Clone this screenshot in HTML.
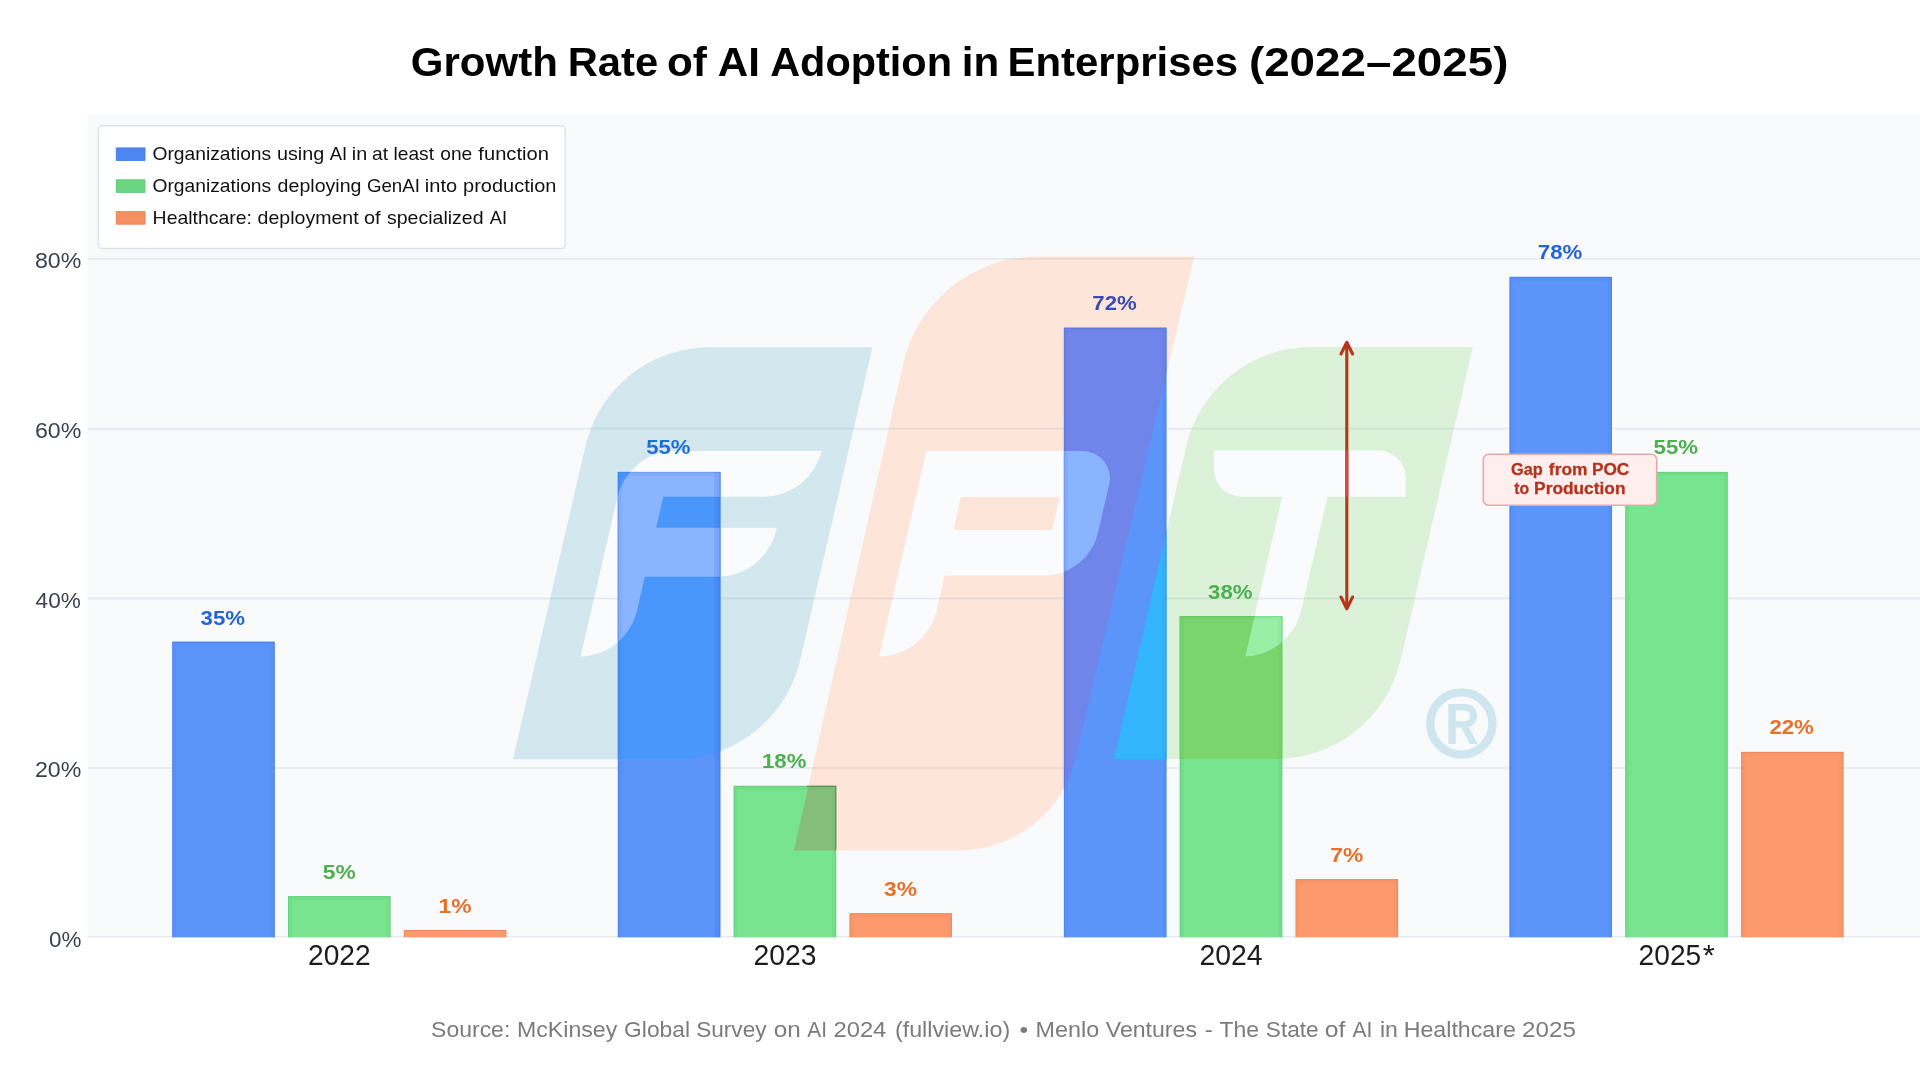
<!DOCTYPE html>
<html><head><meta charset="utf-8"><title>Growth Rate of AI Adoption in Enterprises</title>
<style>
html,body{margin:0;padding:0;background:#fff;}
body{width:1920px;height:1080px;position:relative;overflow:hidden;font-family:"Liberation Sans",sans-serif;}
</style></head><body>
<svg width="1920" height="1080" viewBox="0 0 1920 1080" style="position:absolute;left:0;top:0;will-change:transform">
<defs>
<path id="sB" d="M710.0 347.2 L872.5 347.2 L800.2 660.1 A128 128 0 0 1 675.5 759.3 L513.0 759.3 L585.3 446.4 A128 128 0 0 1 710.0 347.2 Z"/><path id="sO" d="M1037.7 256.4 L1194.1 256.4 L1075.7 758.0 A120 120 0 0 1 958.9 850.4 L793.9 850.4 L903.1 364.2 A138 138 0 0 1 1037.7 256.4 Z"/><path id="sG" d="M1311.0 347.1 L1472.9 347.1 L1400.7 659.8 A128 128 0 0 1 1275.9 759.0 L1114.0 759.0 L1186.2 446.3 A128 128 0 0 1 1311.0 347.1 Z"/>
<path id="lF" d="M675.8 451.0 L821.7 451.0 L821.7 451.0 A60 60 0 0 1 764.2 496.7 L663.3 496.7 L656.2 527.8 L776.7 527.8 L776.1 530.2 A60 60 0 0 1 717.7 576.7 L644.9 576.7 L637.1 610.2 A60 60 0 0 1 578.7 656.7 L580.6 656.7 L617.4 497.5 A60 60 0 0 1 675.8 451.0 Z"/><path id="lP" d="M926.5 451.0 L1082.9 451.0 A27 27 0 0 1 1109.2 484.1 L1097.9 532.9 A55 55 0 0 1 1044.3 575.5 L944.7 575.5 L936.7 610.2 A60 60 0 0 1 878.2 656.7 L879.0 656.7 Z M960.7 497.1 L953.8 530 L1052.2 530 L1059.6 497.1 Z" fill-rule="evenodd"/><path id="lT" d="M1213.9 450.6 L1378.6 450.6 A27 27 0 0 1 1405.6 477.6 L1405.6 496.7 L1327.5 496.7 L1301.3 610.0 A60 60 0 0 1 1242.9 656.5 L1245.3 656.5 L1282.2 496.7 L1241.9 496.7 A28 28 0 0 1 1213.9 468.7 Z"/>
<clipPath id="cT"><use href="#lT"/></clipPath>
<clipPath id="c00"><rect x="172.2" y="641.6" width="102.6" height="295.7"/></clipPath>
<clipPath id="c01"><rect x="288.0" y="896.1" width="102.6" height="41.2"/></clipPath>
<clipPath id="c02"><rect x="403.8" y="930.0" width="102.6" height="7.3"/></clipPath>
<clipPath id="c10"><rect x="617.8" y="471.9" width="102.6" height="465.4"/></clipPath>
<clipPath id="c11"><rect x="733.6" y="785.8" width="102.6" height="151.5"/></clipPath>
<clipPath id="c12"><rect x="849.4" y="913.1" width="102.6" height="24.2"/></clipPath>
<clipPath id="c20"><rect x="1063.9" y="327.7" width="102.6" height="609.6"/></clipPath>
<clipPath id="c21"><rect x="1179.7" y="616.1" width="102.6" height="321.2"/></clipPath>
<clipPath id="c22"><rect x="1295.5" y="879.1" width="102.6" height="58.2"/></clipPath>
<clipPath id="c30"><rect x="1509.4" y="276.8" width="102.6" height="660.5"/></clipPath>
<clipPath id="c31"><rect x="1625.2" y="471.9" width="102.6" height="465.4"/></clipPath>
<clipPath id="c32"><rect x="1741.0" y="751.9" width="102.6" height="185.4"/></clipPath>
</defs>
<rect x="87.4" y="115.2" width="1832.6" height="822.2" fill="#f8fafc"/>
<use href="#sB" fill="#d3e8ee"/><use href="#sO" fill="#fde5da"/><use href="#sG" fill="#dcf2d8"/>
<use href="#lF" fill="#fafbfd"/><use href="#lP" fill="#fafbfd"/><use href="#lT" fill="#fafbfd"/>
<circle cx="1461.4" cy="723.5" r="31.1" fill="none" stroke="#cfe6ee" stroke-width="8.4"/>
<path fill="#cfe6ee" fill-rule="evenodd" d="M1448.4 704.1 H1464 C1472.5 704.1 1477.2 708.8 1477.2 715.8 C1477.2 721.5 1474 725.6 1468.6 727 L1477.8 743.9 H1469.9 L1461.2 727.6 H1455.8 V743.9 H1448.4 Z M1455.8 710.6 V721.2 H1463.5 C1467.8 721.2 1470 719 1470 715.9 C1470 712.8 1467.8 710.6 1463.5 710.6 Z"/>
<rect x="87.6" y="258.0" width="1832.4" height="1.6" fill="#64748b" fill-opacity="0.13"/>
<rect x="87.6" y="427.9" width="1832.4" height="1.6" fill="#64748b" fill-opacity="0.13"/>
<rect x="87.6" y="597.7" width="1832.4" height="1.6" fill="#64748b" fill-opacity="0.13"/>
<rect x="87.6" y="767.2" width="1832.4" height="1.6" fill="#64748b" fill-opacity="0.13"/>
<rect x="87.6" y="935.9" width="1832.4" height="1.6" fill="#64748b" fill-opacity="0.13"/>
<rect x="172.2" y="641.6" width="102.6" height="295.7" fill="#5b95fa"/>
<rect x="288.0" y="896.1" width="102.6" height="41.2" fill="#79e48f"/>
<rect x="403.8" y="930.0" width="102.6" height="7.3" fill="#fc9a6e"/>
<rect x="617.8" y="471.9" width="102.6" height="465.4" fill="#5b95fa"/>
<rect x="733.6" y="785.8" width="102.6" height="151.5" fill="#79e48f"/>
<rect x="849.4" y="913.1" width="102.6" height="24.2" fill="#fc9a6e"/>
<rect x="1063.9" y="327.7" width="102.6" height="609.6" fill="#5b95fa"/>
<rect x="1179.7" y="616.1" width="102.6" height="321.2" fill="#79e48f"/>
<rect x="1295.5" y="879.1" width="102.6" height="58.2" fill="#fc9a6e"/>
<rect x="1509.4" y="276.8" width="102.6" height="660.5" fill="#5b95fa"/>
<rect x="1625.2" y="471.9" width="102.6" height="465.4" fill="#79e48f"/>
<rect x="1741.0" y="751.9" width="102.6" height="185.4" fill="#fc9a6e"/>
<g clip-path="url(#c10)"><use href="#sB" fill="#4a97fb"/><use href="#lF" fill="#8ab4fd"/></g>
<g clip-path="url(#c11)"><use href="#sO" fill="#86be7c"/></g>
<path d="M806.5 786.4 H835.6 V849.8" fill="none" stroke="#5d8f58" stroke-width="1.3" stroke-opacity="0.8"/>
<g clip-path="url(#c20)"><use href="#sO" fill="#7085e9"/><use href="#lP" fill="#8ab4fd"/><use href="#sG" fill="#33b5fc"/></g>
<g clip-path="url(#c21)"><use href="#sG" fill="#7bd56f"/><use href="#lT" fill="#9aefa6"/></g>
<rect x="714.2" y="471.9" width="6.2" height="465.4" fill="#3b4fd8" fill-opacity="0.10"/>
<path d="M172.7 937.3 V642.1 H274.3 V937.3" fill="none" stroke="#2c4fc0" stroke-width="1" stroke-opacity="0.26"/>
<path d="M174.7 937.3 V644.1 H272.3 V937.3" fill="none" stroke="#2c4fc0" stroke-width="3" stroke-opacity="0.07"/>
<path d="M288.5 937.3 V896.6 H390.1 V937.3" fill="none" stroke="#2e9e4a" stroke-width="1" stroke-opacity="0.26"/>
<path d="M290.5 937.3 V898.6 H388.1 V937.3" fill="none" stroke="#2e9e4a" stroke-width="3" stroke-opacity="0.07"/>
<path d="M404.3 937.3 V930.5 H505.9 V937.3" fill="none" stroke="#c8602a" stroke-width="1" stroke-opacity="0.26"/>
<path d="M618.3 937.3 V472.4 H719.9 V937.3" fill="none" stroke="#2c4fc0" stroke-width="1" stroke-opacity="0.26"/>
<path d="M620.3 937.3 V474.4 H717.9 V937.3" fill="none" stroke="#2c4fc0" stroke-width="3" stroke-opacity="0.07"/>
<path d="M734.1 937.3 V786.3 H835.7 V937.3" fill="none" stroke="#2e9e4a" stroke-width="1" stroke-opacity="0.26"/>
<path d="M736.1 937.3 V788.3 H833.7 V937.3" fill="none" stroke="#2e9e4a" stroke-width="3" stroke-opacity="0.07"/>
<path d="M849.9 937.3 V913.6 H951.5 V937.3" fill="none" stroke="#c8602a" stroke-width="1" stroke-opacity="0.26"/>
<path d="M851.9 937.3 V915.6 H949.5 V937.3" fill="none" stroke="#c8602a" stroke-width="3" stroke-opacity="0.07"/>
<path d="M1064.4 937.3 V328.2 H1166.0 V937.3" fill="none" stroke="#2c4fc0" stroke-width="1" stroke-opacity="0.26"/>
<path d="M1066.4 937.3 V330.2 H1164.0 V937.3" fill="none" stroke="#2c4fc0" stroke-width="3" stroke-opacity="0.07"/>
<path d="M1180.2 937.3 V616.6 H1281.8 V937.3" fill="none" stroke="#2e9e4a" stroke-width="1" stroke-opacity="0.26"/>
<path d="M1182.2 937.3 V618.6 H1279.8 V937.3" fill="none" stroke="#2e9e4a" stroke-width="3" stroke-opacity="0.07"/>
<path d="M1296.0 937.3 V879.6 H1397.6 V937.3" fill="none" stroke="#c8602a" stroke-width="1" stroke-opacity="0.26"/>
<path d="M1298.0 937.3 V881.6 H1395.6 V937.3" fill="none" stroke="#c8602a" stroke-width="3" stroke-opacity="0.07"/>
<path d="M1509.9 937.3 V277.3 H1611.5 V937.3" fill="none" stroke="#2c4fc0" stroke-width="1" stroke-opacity="0.26"/>
<path d="M1511.9 937.3 V279.3 H1609.5 V937.3" fill="none" stroke="#2c4fc0" stroke-width="3" stroke-opacity="0.07"/>
<path d="M1625.7 937.3 V472.4 H1727.3 V937.3" fill="none" stroke="#2e9e4a" stroke-width="1" stroke-opacity="0.26"/>
<path d="M1627.7 937.3 V474.4 H1725.3 V937.3" fill="none" stroke="#2e9e4a" stroke-width="3" stroke-opacity="0.07"/>
<path d="M1741.5 937.3 V752.4 H1843.1 V937.3" fill="none" stroke="#c8602a" stroke-width="1" stroke-opacity="0.26"/>
<path d="M1743.5 937.3 V754.4 H1841.1 V937.3" fill="none" stroke="#c8602a" stroke-width="3" stroke-opacity="0.07"/>
<g stroke="#b5351f" stroke-width="3.1" fill="none" stroke-linecap="round" stroke-linejoin="round"><path d="M1346.8 343 V607.5"/><path d="M1341 354 L1346.8 342.3 L1352.6 354"/><path d="M1341 597 L1346.8 608.7 L1352.6 597"/></g>
<g clip-path="url(#cT)" stroke="#d7463f" stroke-width="3.1" fill="none"><path d="M1346.8 343 V607.5"/><path d="M1341 354 L1346.8 342.3 L1352.6 354"/><path d="M1341 597 L1346.8 608.7 L1352.6 597"/></g>
<rect x="1483.3" y="454.3" width="173.4" height="51" rx="5.5" fill="#feeeed" stroke="#eaa9a7" stroke-width="1.6"/>
<text x="438.50" y="912.5" font-family="Liberation Sans, sans-serif" font-weight="bold" font-size="20.6" fill="#e8702a" textLength="33.00" lengthAdjust="spacingAndGlyphs">1%</text>
<text x="646.20" y="454.4" font-family="Liberation Sans, sans-serif" font-weight="bold" font-size="20.6" fill="#1f6ed8" textLength="44.40" lengthAdjust="spacingAndGlyphs">55%</text>
<text x="762.00" y="768.3" font-family="Liberation Sans, sans-serif" font-weight="bold" font-size="20.6" fill="#4caf50" textLength="44.40" lengthAdjust="spacingAndGlyphs">18%</text>
<text x="884.10" y="895.6" font-family="Liberation Sans, sans-serif" font-weight="bold" font-size="20.6" fill="#e8702a" textLength="33.00" lengthAdjust="spacingAndGlyphs">3%</text>
<text x="1092.30" y="310.2" font-family="Liberation Sans, sans-serif" font-weight="bold" font-size="20.6" fill="#3a4cb4" textLength="44.40" lengthAdjust="spacingAndGlyphs">72%</text>
<text x="1208.10" y="598.6" font-family="Liberation Sans, sans-serif" font-weight="bold" font-size="20.6" fill="#4caf50" textLength="44.40" lengthAdjust="spacingAndGlyphs">38%</text>
<text x="1330.20" y="861.6" font-family="Liberation Sans, sans-serif" font-weight="bold" font-size="20.6" fill="#e8702a" textLength="33.00" lengthAdjust="spacingAndGlyphs">7%</text>
<text x="1537.80" y="259.3" font-family="Liberation Sans, sans-serif" font-weight="bold" font-size="20.6" fill="#2563d9" textLength="44.40" lengthAdjust="spacingAndGlyphs">78%</text>
<text x="1653.60" y="454.4" font-family="Liberation Sans, sans-serif" font-weight="bold" font-size="20.6" fill="#4caf50" textLength="44.40" lengthAdjust="spacingAndGlyphs">55%</text>
<text x="1769.40" y="734.4" font-family="Liberation Sans, sans-serif" font-weight="bold" font-size="20.6" fill="#e8702a" textLength="44.40" lengthAdjust="spacingAndGlyphs">22%</text>
<rect x="98.3" y="125.8" width="467" height="122.6" rx="4" fill="#ffffff" stroke="#dfe4ea" stroke-width="1.5"/>
<rect x="116.2" y="147.9" width="28.8" height="12.6" fill="#4d86f0" stroke="#3f78e6" stroke-width="0.8"/>
<rect x="116.2" y="179.8" width="28.8" height="12.6" fill="#69d582" stroke="#5cc876" stroke-width="0.8"/>
<rect x="116.2" y="211.6" width="28.8" height="12.6" fill="#f48f60" stroke="#ea8052" stroke-width="0.8"/>
<text x="410.82" y="75.8" font-family="Liberation Sans, sans-serif" font-weight="bold" font-size="41.5" fill="#000" textLength="147.10" lengthAdjust="spacingAndGlyphs">Growth</text>
<text x="567.72" y="75.8" font-family="Liberation Sans, sans-serif" font-weight="bold" font-size="41.5" fill="#000" textLength="90.50" lengthAdjust="spacingAndGlyphs">Rate</text>
<text x="666.92" y="75.8" font-family="Liberation Sans, sans-serif" font-weight="bold" font-size="41.5" fill="#000" textLength="39.90" lengthAdjust="spacingAndGlyphs">of</text>
<text x="717.86" y="75.8" font-family="Liberation Sans, sans-serif" font-weight="bold" font-size="41.5" fill="#000" textLength="42.12" lengthAdjust="spacingAndGlyphs">AI</text>
<text x="770.16" y="75.8" font-family="Liberation Sans, sans-serif" font-weight="bold" font-size="41.5" fill="#000" textLength="181.84" lengthAdjust="spacingAndGlyphs">Adoption</text>
<text x="961.72" y="75.8" font-family="Liberation Sans, sans-serif" font-weight="bold" font-size="41.5" fill="#000" textLength="37.42" lengthAdjust="spacingAndGlyphs">in</text>
<text x="1007.58" y="75.8" font-family="Liberation Sans, sans-serif" font-weight="bold" font-size="41.5" fill="#000" textLength="230.52" lengthAdjust="spacingAndGlyphs">Enterprises</text>
<text x="1248.94" y="75.8" font-family="Liberation Sans, sans-serif" font-weight="bold" font-size="41.5" fill="#000" textLength="259.52" lengthAdjust="spacingAndGlyphs">(2022–2025)</text>
<text x="152.44" y="160.0" font-family="Liberation Sans, sans-serif" font-size="19" fill="#111" textLength="118.76" lengthAdjust="spacingAndGlyphs">Organizations</text>
<text x="276.90" y="160.0" font-family="Liberation Sans, sans-serif" font-size="19" fill="#111" textLength="47.30" lengthAdjust="spacingAndGlyphs">using</text>
<text x="329.82" y="160.0" font-family="Liberation Sans, sans-serif" font-size="19" fill="#111" textLength="17.38" lengthAdjust="spacingAndGlyphs">AI</text>
<text x="351.80" y="160.0" font-family="Liberation Sans, sans-serif" font-size="19" fill="#111" textLength="15.40" lengthAdjust="spacingAndGlyphs">in</text>
<text x="372.10" y="160.0" font-family="Liberation Sans, sans-serif" font-size="19" fill="#111" textLength="16.02" lengthAdjust="spacingAndGlyphs">at</text>
<text x="393.50" y="160.0" font-family="Liberation Sans, sans-serif" font-size="19" fill="#111" textLength="40.48" lengthAdjust="spacingAndGlyphs">least</text>
<text x="440.26" y="160.0" font-family="Liberation Sans, sans-serif" font-size="19" fill="#111" textLength="32.02" lengthAdjust="spacingAndGlyphs">one</text>
<text x="478.34" y="160.0" font-family="Liberation Sans, sans-serif" font-size="19" fill="#111" textLength="70.66" lengthAdjust="spacingAndGlyphs">function</text>
<text x="152.44" y="191.9" font-family="Liberation Sans, sans-serif" font-size="19" fill="#111" textLength="118.76" lengthAdjust="spacingAndGlyphs">Organizations</text>
<text x="277.62" y="191.9" font-family="Liberation Sans, sans-serif" font-size="19" fill="#111" textLength="83.84" lengthAdjust="spacingAndGlyphs">deploying</text>
<text x="366.90" y="191.9" font-family="Liberation Sans, sans-serif" font-size="19" fill="#111" textLength="53.00" lengthAdjust="spacingAndGlyphs">GenAI</text>
<text x="424.80" y="191.9" font-family="Liberation Sans, sans-serif" font-size="19" fill="#111" textLength="32.30" lengthAdjust="spacingAndGlyphs">into</text>
<text x="463.08" y="191.9" font-family="Liberation Sans, sans-serif" font-size="19" fill="#111" textLength="93.30" lengthAdjust="spacingAndGlyphs">production</text>
<text x="152.60" y="223.8" font-family="Liberation Sans, sans-serif" font-size="19" fill="#111" textLength="99.40" lengthAdjust="spacingAndGlyphs">Healthcare:</text>
<text x="257.62" y="223.8" font-family="Liberation Sans, sans-serif" font-size="19" fill="#111" textLength="101.04" lengthAdjust="spacingAndGlyphs">deployment</text>
<text x="364.00" y="223.8" font-family="Liberation Sans, sans-serif" font-size="19" fill="#111" textLength="16.66" lengthAdjust="spacingAndGlyphs">of</text>
<text x="387.00" y="223.8" font-family="Liberation Sans, sans-serif" font-size="19" fill="#111" textLength="96.50" lengthAdjust="spacingAndGlyphs">specialized</text>
<text x="489.80" y="223.8" font-family="Liberation Sans, sans-serif" font-size="19" fill="#111" textLength="17.20" lengthAdjust="spacingAndGlyphs">AI</text>
<text x="431.10" y="1036.9" font-family="Liberation Sans, sans-serif" font-size="21.8" fill="#7b7b7b" textLength="79.20" lengthAdjust="spacingAndGlyphs">Source:</text>
<text x="517.00" y="1036.9" font-family="Liberation Sans, sans-serif" font-size="21.8" fill="#7b7b7b" textLength="100.30" lengthAdjust="spacingAndGlyphs">McKinsey</text>
<text x="624.10" y="1036.9" font-family="Liberation Sans, sans-serif" font-size="21.8" fill="#7b7b7b" textLength="66.00" lengthAdjust="spacingAndGlyphs">Global</text>
<text x="696.20" y="1036.9" font-family="Liberation Sans, sans-serif" font-size="21.8" fill="#7b7b7b" textLength="70.38" lengthAdjust="spacingAndGlyphs">Survey</text>
<text x="773.80" y="1036.9" font-family="Liberation Sans, sans-serif" font-size="21.8" fill="#7b7b7b" textLength="27.00" lengthAdjust="spacingAndGlyphs">on</text>
<text x="807.34" y="1036.9" font-family="Liberation Sans, sans-serif" font-size="21.8" fill="#7b7b7b" textLength="19.66" lengthAdjust="spacingAndGlyphs">AI</text>
<text x="833.50" y="1036.9" font-family="Liberation Sans, sans-serif" font-size="21.8" fill="#7b7b7b" textLength="52.84" lengthAdjust="spacingAndGlyphs">2024</text>
<text x="894.90" y="1036.9" font-family="Liberation Sans, sans-serif" font-size="21.8" fill="#7b7b7b" textLength="115.30" lengthAdjust="spacingAndGlyphs">(fullview.io)</text>
<text x="1019.40" y="1036.9" font-family="Liberation Sans, sans-serif" font-size="21.8" fill="#7b7b7b" textLength="8.70" lengthAdjust="spacingAndGlyphs">•</text>
<text x="1035.60" y="1036.9" font-family="Liberation Sans, sans-serif" font-size="21.8" fill="#7b7b7b" textLength="63.60" lengthAdjust="spacingAndGlyphs">Menlo</text>
<text x="1105.82" y="1036.9" font-family="Liberation Sans, sans-serif" font-size="21.8" fill="#7b7b7b" textLength="91.12" lengthAdjust="spacingAndGlyphs">Ventures</text>
<text x="1204.80" y="1036.9" font-family="Liberation Sans, sans-serif" font-size="21.8" fill="#7b7b7b" textLength="8.10" lengthAdjust="spacingAndGlyphs">-</text>
<text x="1219.50" y="1036.9" font-family="Liberation Sans, sans-serif" font-size="21.8" fill="#7b7b7b" textLength="39.50" lengthAdjust="spacingAndGlyphs">The</text>
<text x="1265.80" y="1036.9" font-family="Liberation Sans, sans-serif" font-size="21.8" fill="#7b7b7b" textLength="52.80" lengthAdjust="spacingAndGlyphs">State</text>
<text x="1324.70" y="1036.9" font-family="Liberation Sans, sans-serif" font-size="21.8" fill="#7b7b7b" textLength="20.66" lengthAdjust="spacingAndGlyphs">of</text>
<text x="1352.50" y="1036.9" font-family="Liberation Sans, sans-serif" font-size="21.8" fill="#7b7b7b" textLength="19.90" lengthAdjust="spacingAndGlyphs">AI</text>
<text x="1379.90" y="1036.9" font-family="Liberation Sans, sans-serif" font-size="21.8" fill="#7b7b7b" textLength="17.90" lengthAdjust="spacingAndGlyphs">in</text>
<text x="1403.74" y="1036.9" font-family="Liberation Sans, sans-serif" font-size="21.8" fill="#7b7b7b" textLength="112.10" lengthAdjust="spacingAndGlyphs">Healthcare</text>
<text x="1522.10" y="1036.9" font-family="Liberation Sans, sans-serif" font-size="21.8" fill="#7b7b7b" textLength="53.80" lengthAdjust="spacingAndGlyphs">2025</text>
<text x="34.90" y="268.0" font-family="Liberation Sans, sans-serif" font-size="22.4" fill="#3a4150" textLength="46.40" lengthAdjust="spacingAndGlyphs">80%</text>
<text x="34.90" y="437.9" font-family="Liberation Sans, sans-serif" font-size="22.4" fill="#3a4150" textLength="46.40" lengthAdjust="spacingAndGlyphs">60%</text>
<text x="35.62" y="607.7" font-family="Liberation Sans, sans-serif" font-size="22.4" fill="#3a4150" textLength="45.12" lengthAdjust="spacingAndGlyphs">40%</text>
<text x="34.90" y="777.2" font-family="Liberation Sans, sans-serif" font-size="22.4" fill="#3a4150" textLength="46.40" lengthAdjust="spacingAndGlyphs">20%</text>
<text x="49.08" y="946.8" font-family="Liberation Sans, sans-serif" font-size="22.4" fill="#3a4150" textLength="32.40" lengthAdjust="spacingAndGlyphs">0%</text>
<text x="308.00" y="965.1" font-family="Liberation Sans, sans-serif" font-size="28.6" fill="#1c1c1c" textLength="62.60" lengthAdjust="spacingAndGlyphs">2022</text>
<text x="753.60" y="965.1" font-family="Liberation Sans, sans-serif" font-size="28.6" fill="#1c1c1c" textLength="63.00" lengthAdjust="spacingAndGlyphs">2023</text>
<text x="1199.50" y="965.1" font-family="Liberation Sans, sans-serif" font-size="28.6" fill="#1c1c1c" textLength="63.10" lengthAdjust="spacingAndGlyphs">2024</text>
<text x="1638.60" y="965.1" font-family="Liberation Sans, sans-serif" font-size="28.6" fill="#1c1c1c" textLength="62.60" lengthAdjust="spacingAndGlyphs">2025</text>
<text x="1702.80" y="965.1" font-family="Liberation Sans, sans-serif" font-size="28.6" fill="#1c1c1c" textLength="12.12" lengthAdjust="spacingAndGlyphs">*</text>
<text x="200.60" y="624.6" font-family="Liberation Sans, sans-serif" font-weight="bold" font-size="20.6" fill="#2563d9" textLength="44.40" lengthAdjust="spacingAndGlyphs">35%</text>
<text x="322.70" y="878.7" font-family="Liberation Sans, sans-serif" font-weight="bold" font-size="20.6" fill="#4caf50" textLength="33.00" lengthAdjust="spacingAndGlyphs">5%</text>
<text x="1510.98" y="474.8" font-family="Liberation Sans, sans-serif" font-weight="bold" font-size="16.8" fill="#b3341e" stroke="#b3341e" stroke-width="0.3" textLength="31.88" lengthAdjust="spacingAndGlyphs">Gap</text>
<text x="1548.88" y="474.8" font-family="Liberation Sans, sans-serif" font-weight="bold" font-size="16.8" fill="#b3341e" stroke="#b3341e" stroke-width="0.3" textLength="38.66" lengthAdjust="spacingAndGlyphs">from</text>
<text x="1591.90" y="474.8" font-family="Liberation Sans, sans-serif" font-weight="bold" font-size="16.8" fill="#b3341e" stroke="#b3341e" stroke-width="0.3" textLength="37.40" lengthAdjust="spacingAndGlyphs">POC</text>
<text x="1514.34" y="494.0" font-family="Liberation Sans, sans-serif" font-weight="bold" font-size="16.8" fill="#b3341e" stroke="#b3341e" stroke-width="0.3" textLength="14.86" lengthAdjust="spacingAndGlyphs">to</text>
<text x="1534.10" y="494.0" font-family="Liberation Sans, sans-serif" font-weight="bold" font-size="16.8" fill="#b3341e" stroke="#b3341e" stroke-width="0.3" textLength="91.38" lengthAdjust="spacingAndGlyphs">Production</text>
</svg>
</body></html>
